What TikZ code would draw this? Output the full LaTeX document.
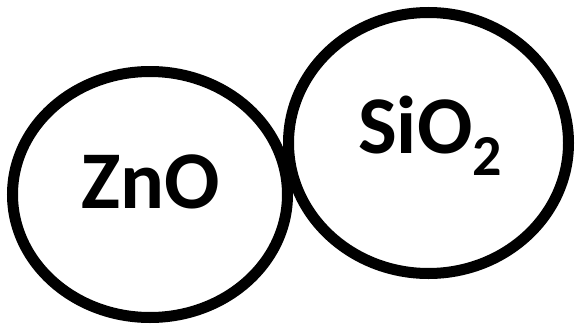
\documentclass[tikz,border=0pt]{standalone}
\usepackage{fontspec}
\setmainfont{Carlito}
\usetikzlibrary{shapes.geometric}
\begin{document}
\begin{tikzpicture}[x=1pt,y=1pt,
  particle/.style={draw=black, line width=11pt, ellipse, inner sep=0pt, fill=none},
  label/.style={inner sep=0pt, font=\bfseries\fontsize{82}{90}\selectfont}]
\useasboundingbox (0,0) rectangle (576,325);
\node[particle, minimum width=275pt, minimum height=246pt] (zno) at (150,130.5) {};
\node[particle, minimum width=280pt, minimum height=261pt] (sio) at (428.5,182) {};
\node[label, anchor=base] (znot) at (150.5,117) {ZnO};
\node[label, anchor=base west] (siot) at (358,172) {SiO\raisebox{-22pt}{\fontsize{58}{60}\selectfont 2}};
\end{tikzpicture}
\end{document}
